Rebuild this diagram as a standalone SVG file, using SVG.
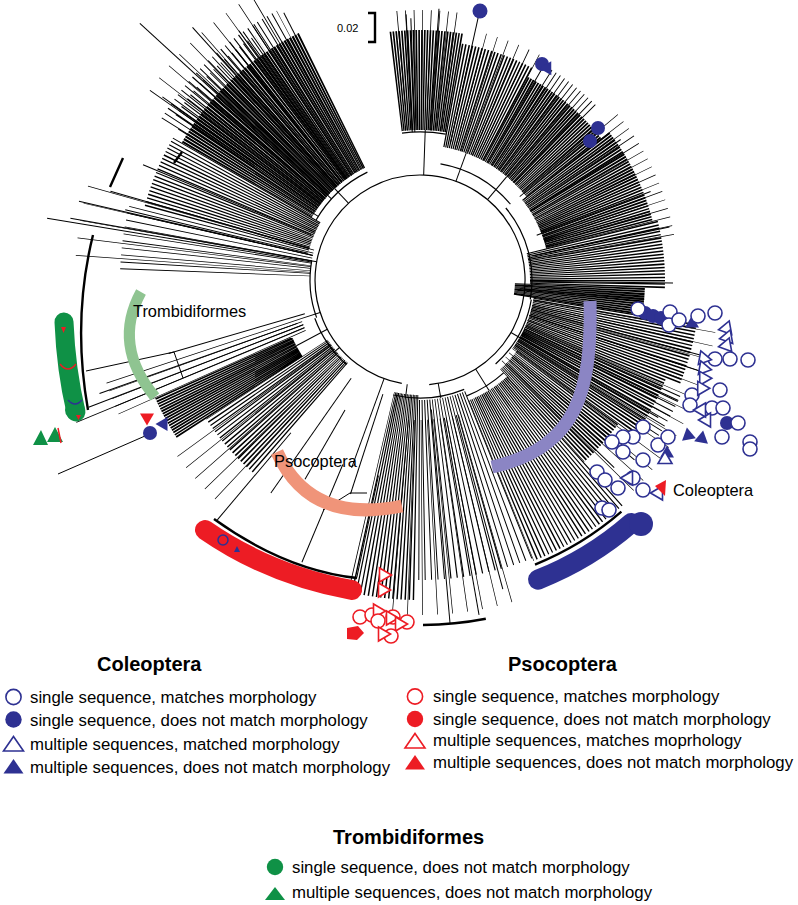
<svg xmlns="http://www.w3.org/2000/svg" width="798" height="905" viewBox="0 0 798 905">
<defs>
<style>
.f{fill:none;stroke:#000}
.l{fill:none;stroke:#000;stroke-width:1}
.a{fill:none;stroke:#000;stroke-width:1.2}
.k{fill:none;stroke:#000;stroke-width:2.4}
.bo{fill:#fff;stroke:#2e3192;stroke-width:1.6}
.bf{fill:#2e3192}
.ro{fill:#fff;stroke:#ed1c24;stroke-width:1.6}
.rf{fill:#ed1c24}
.gf{fill:#0f9146}
.t{font-family:"Liberation Sans",Arial,Helvetica,sans-serif;fill:#000}
.lg{font-size:16.8px}
.h{font-size:20px;font-weight:bold}
.tl{font-size:16.4px}
</style>
<polygon id="tri" points="0,-6.5 7,5.5 -7,5.5"/>
<polygon id="ltri" points="0,-7.5 10,7 -10,7"/>
</defs>
<rect width="798" height="905" fill="#fff"/>

<g id="tree" transform="translate(420 280)">
<g id="fans" class="f">
<path d="M-204.9 -7.2A205 205 0 0 1 -198 -53.1" stroke-width="190" stroke-dasharray="0.8 4"/>
<path d="M-227 -15.9A227.5 227.5 0 0 1 -217.6 -66.5" stroke-width="235" stroke-dasharray="0.6 11"/>
<path d="M-193.2 -51.8A200 200 0 0 1 -173.2 -100" stroke-width="170" stroke-dasharray="1.2 1.5"/>
<path d="M-173.2 -100A200 200 0 0 1 -87.7 -179.8" stroke-width="150" stroke-dasharray="1.6 0.6"/>
<path d="M-174.1 -117.4A210 210 0 0 1 -117.4 -174.1" stroke-width="170" stroke-dasharray="1 2.5"/>
<path d="M-182.3 -113.9A215 215 0 0 1 -100.9 -189.8" stroke-width="180" stroke-dasharray="1 3"/>
<path d="M-186.4 -130.5A227.5 227.5 0 0 1 -113.75 -197" stroke-width="205" stroke-dasharray="0.7 10"/>
<path d="M-24.4 -198.5A200 200 0 0 1 34.7 -197" stroke-width="100" stroke-dasharray="1.5 0.8"/>
<path d="M-18.3 -209.2A210 210 0 0 1 29.2 -208" stroke-width="120" stroke-dasharray="0.7 6"/>
<path d="M32.6 -184.7A187.5 187.5 0 0 1 88 -165.5" stroke-width="105" stroke-dasharray="1.4 1.2"/>
<path d="M50.5 -188.4A195 195 0 0 1 97.5 -168.9" stroke-width="120" stroke-dasharray="0.7 8"/>
<path d="M85.7 -161.1A182.5 182.5 0 0 1 143.8 -112.4" stroke-width="95" stroke-dasharray="1.5 0.7"/>
<path d="M101.5 -162.4A191.5 191.5 0 0 1 137.7 -133" stroke-width="113" stroke-dasharray="0.9 3"/>
<path d="M145.8 -113.9A185 185 0 0 1 179.5 -44.8" stroke-width="110" stroke-dasharray="1.5 0.7"/>
<path d="M148.6 -124.7A194 194 0 0 1 191.05 -33.7" stroke-width="128" stroke-dasharray="0.7 6"/>
<path d="M172.2 -42.9A177.5 177.5 0 0 1 177.4 6.2" stroke-width="135" stroke-dasharray="1.3 1.1"/>
<path d="M159.9 5.6A160 160 0 0 1 158 25" stroke-width="130" stroke-dasharray="1.5 0.3"/>
<path d="M195.1 30.9A197.5 197.5 0 0 1 183.1 74" stroke-width="165" stroke-dasharray="1.3 1.2"/>
<path d="M176.2 71.2A190 190 0 0 1 153.7 111.7" stroke-width="150" stroke-dasharray="1.4 1"/>
<path d="M182.7 81.3A200 200 0 0 1 165.8 111.8" stroke-width="170" stroke-dasharray="0.9 3"/>
<path d="M147.6 107.3A182.5 182.5 0 0 1 122.1 135.6" stroke-width="125" stroke-dasharray="1.3 1.2"/>
<path d="M204.3 36A207.5 207.5 0 0 1 144.1 149.3" stroke-width="185" stroke-dasharray="0.6 9"/>
<path d="M144.9 160.9A216.5 216.5 0 0 1 81.1 200.7" stroke-width="173" stroke-dasharray="1.2 1.8"/>
<path d="M78.7 194.7A210 210 0 0 1 -3.7 210" stroke-width="180" stroke-dasharray="1 3.5"/>
<path d="M65.5 228.3A237.5 237.5 0 0 1 -20.7 236.6" stroke-width="195" stroke-dasharray="0.7 10"/>
<path d="M-3.8 217.5A217.5 217.5 0 0 1 -48.9 211.9" stroke-width="205" stroke-dasharray="1.2 1.6"/>
<path d="M-119.7 137.7A182.5 182.5 0 0 1 -153.1 99.4" stroke-width="145" stroke-dasharray="1.2 1.6"/>
<path d="M-139.8 149.9A205 205 0 0 1 -169.9 114.6" stroke-width="190" stroke-dasharray="0.7 9"/>
<path d="M-180.3 117.1A215 215 0 0 1 -196.4 87.4" stroke-width="150" stroke-dasharray="1.5 0.5"/>
<path d="M-207.8 92.5A227.5 227.5 0 0 1 -217.6 66.5" stroke-width="205" stroke-dasharray="0.7 5"/>
</g>
<g id="branches" class="l">
<path d="M120 0H380" transform="rotate(-137.5)"/>
<path d="M110 0H378" transform="rotate(-170.6)"/>
<path d="M110 0H355" transform="rotate(-170)"/>
<path d="M110 0H350" transform="rotate(-167)"/>
<path d="M115 0H303" transform="rotate(-166.6)"/>
<path d="M115 0H322" transform="rotate(-164)"/>
<path d="M118 0H300" transform="rotate(-157.4)"/>
<path d="M120 0H285" transform="rotate(-148)"/>
<path d="M125 0H316" transform="rotate(-144.6)"/>
<path d="M125 0H340" transform="rotate(-132)"/>
<path d="M125 0H308" transform="rotate(-126)"/>
<path d="M125 0H305" transform="rotate(-123)"/>
<path d="M125 0H300" transform="rotate(-117)"/>
<path d="M148 0H266" transform="rotate(-93)"/>
<path d="M148 0H262" transform="rotate(-92)"/>
<path d="M150 0H272" transform="rotate(-86)"/>
<path d="M140 0H270" transform="rotate(-77.5)"/>
<path d="M135 0H248" transform="rotate(-60)"/>
<path d="M135 0H232" transform="rotate(-40.8)"/>
<path d="M130 0H245" transform="rotate(-35)"/>
<path d="M130 0H240" transform="rotate(-32)"/>
<path d="M125 0H247" transform="rotate(-21)"/>
<path d="M115 0H255" transform="rotate(-12)"/>
<path d="M110 0H253" transform="rotate(0.7)"/>
<path d="M100 0H225" transform="rotate(5)"/>
<path d="M115 0H290" transform="rotate(15)"/>
<path d="M115 0H295" transform="rotate(18)"/>
<path d="M115 0H285" transform="rotate(25)"/>
<path d="M115 0H275" transform="rotate(30)"/>
<path d="M120 0H280" transform="rotate(40)"/>
<path d="M120 0H270" transform="rotate(44)"/>
<path d="M125 0H372" transform="rotate(157.5)"/>
<path d="M125 0H355" transform="rotate(159)"/>
<path d="M130 0H340" transform="rotate(160.5)"/>
<path d="M120 0H262" transform="rotate(163.7)"/>
<path d="M200 0H304" transform="rotate(102)"/>
<path d="M200 0H306" transform="rotate(112.7)"/>
<path d="M200 0H314" transform="rotate(130.2)"/>
<path d="M150 0H230" transform="rotate(120)"/>
<path d="M120 0H225" transform="rotate(108)"/>
<path d="M120 0H260" transform="rotate(125)"/>
<path d="M140 0H320" transform="rotate(75)"/>
<path d="M140 0H340" transform="rotate(80)"/>
<path d="M130 0H345" transform="rotate(85)"/>
<path d="M105 0H150" transform="rotate(-88)"/>
<path d="M105 0H135" transform="rotate(-70)"/>
<path d="M105 0H135" transform="rotate(-50)"/>
<path d="M105 0H125" transform="rotate(-133)"/>
<path d="M105 0H115" transform="rotate(5)"/>
<path d="M105 0H118" transform="rotate(30)"/>
<path d="M105 0H130" transform="rotate(58)"/>
<path d="M105 0H120" transform="rotate(80)"/>
<path d="M105 0H118" transform="rotate(97)"/>
<path d="M105 0H200" transform="rotate(110)"/>
<path d="M105 0H115" transform="rotate(140)"/>
<path d="M105 0H140" transform="rotate(152)"/>
<path d="M105 0H125" transform="rotate(162)"/>
<path d="M105 0H112" transform="rotate(-170)"/>
</g>
<g id="nodes" class="a">
<path d="M-18.2 103.4A105 105 0 1 1 9.2 104.6"/>
<path d="M-103.9 -60A120 120 0 0 1 -52.6 -107.9"/>
<path d="M-18 -146.9A148 148 0 0 1 25.7 -145.8"/>
<path d="M20.5 -116.2A118 118 0 0 1 90.4 -75.9"/>
<path d="M85.8 -72A112 112 0 0 1 110.3 19.4"/>
<path d="M111.3 19.6A113 113 0 0 1 75.6 84"/>
<path d="M83.6 92.9A125 125 0 0 1 46.8 115.9"/>
<path d="M44.2 109.4A118 118 0 0 1 -26.6 115"/>
<path d="M-73.5 84.5A112 112 0 0 1 -105.2 38.3"/>
<path d="M-103.4 37.6A110 110 0 0 1 -108.3 -19.1"/>
</g>
</g>

<g id="clade-lines">
<path class="k" d="M621.4 511.7A307 307 0 0 1 535 564.6"/>
<path class="k" d="M485.8 618.7A345 345 0 0 1 423 625"/>
<path class="l" d="M323 510L350 493M350 493H367M86 371L174 352L183 378M58 474L145 436"/>
<path class="k" d="M123 158L110 187M182 152L174 163M368 13H375V42H368" stroke-width="1.6"/>
</g>

<g id="highlight-arcs" fill="none" stroke-linecap="butt">
<path d="M141 292Q112 345 155 397" stroke="#8fc491" stroke-width="11"/>
<path d="M277 452Q310 525 402 506" stroke="#f09479" stroke-width="13"/>
<path d="M590 301C592 390 578 448 492 467" stroke="#8b85c4" stroke-width="13"/>
</g>

<g id="trombidiformes">
<path class="k" d="M93 235Q72 320 88 410" stroke-width="2"/>
<path d="M64 322Q66 370 76 412" stroke="#0f9146" stroke-width="19" stroke-linecap="round" fill="none"/>
<circle class="gf" cx="75" cy="410" r="10"/>
<polygon class="rf" points="61,327 66,327 63.5,333"/>
<path d="M60 364Q68 374 76 364" stroke="#ed1c24" stroke-width="1.5" fill="none"/>
<path d="M68 400Q75 408 82 400" stroke="#2e3192" stroke-width="1.5" fill="none"/>
<polygon class="rf" points="76,415 81,415 78.5,420"/>
<polygon class="gf" points="41,430 48,445 33,445"/>
<polygon class="gf" points="55,427 63,442 47,442"/>
<path d="M58 428L61 443" stroke="#ed1c24" stroke-width="1.5"/>
</g>

<g id="psocoptera">
<path d="M205 530Q270 575 352 590" stroke="#ed1c24" stroke-width="20" stroke-linecap="round" fill="none"/>
<path class="k" d="M214 519Q285 570 357 578"/>
<circle cx="223" cy="540" r="5" fill="none" stroke="#2e3192" stroke-width="1.5"/>
<polygon class="bf" points="237,546 240,552 234,552"/>
<use href="#tri" class="ro" transform="translate(385 575) rotate(90)"/>
<use href="#tri" class="ro" transform="translate(384 590) rotate(90)"/>
<circle class="ro" cx="360" cy="617" r="7"/>
<circle class="ro" cx="372" cy="615" r="7"/>
<use href="#tri" class="ro" transform="translate(379 611) rotate(90)"/>
<circle class="ro" cx="378" cy="621" r="7"/>
<circle class="ro" cx="393" cy="617" r="7"/>
<use href="#tri" class="ro" transform="translate(392 618) rotate(90)"/>
<circle class="ro" cx="407" cy="622" r="7"/>
<use href="#tri" class="ro" transform="translate(401 624) rotate(90)"/>
<polygon class="rf" points="347,628 358,626 364,633 357,640 347,639"/>
<circle class="ro" cx="391" cy="636" r="7"/>
<use href="#tri" class="ro" transform="translate(384 634) rotate(90)"/>
</g>

<g id="coleoptera">
<path d="M631.3 523A322 322 0 0 1 538 579.6" stroke="#2e3192" stroke-width="20" stroke-linecap="round" fill="none"/>
<circle class="bf" cx="641" cy="524" r="12"/>
<circle class="bf" cx="480" cy="11" r="7.5"/>
<circle class="bf" cx="542" cy="64" r="7"/>
<use href="#tri" class="bf" transform="translate(548 67) rotate(30)"/>
<circle class="bf" cx="598" cy="128" r="7"/>
<circle class="bf" cx="590" cy="141" r="7"/>
<circle class="bf" cx="645" cy="313" r="7"/>
<circle class="bf" cx="653" cy="316" r="7"/>
<circle class="bf" cx="661" cy="318" r="7"/>
<use href="#tri" class="bf" transform="translate(692 322)"/>
<circle class="bf" cx="727" cy="423" r="7"/>
<use href="#tri" class="bf" transform="translate(688 434) rotate(-10)"/>
<use href="#tri" class="bf" transform="translate(702 437) rotate(10)"/>
<use href="#tri" class="bf" transform="translate(667 452)"/>
<circle class="bo" cx="638" cy="309" r="7"/>
<circle class="bo" cx="670" cy="312" r="7"/>
<circle class="bo" cx="669" cy="325" r="7"/>
<circle class="bo" cx="679" cy="320" r="7"/>
<circle class="bo" cx="698" cy="316" r="7"/>
<circle class="bo" cx="715" cy="313" r="7"/>
<circle class="bo" cx="715" cy="359" r="7"/>
<circle class="bo" cx="730" cy="359" r="7"/>
<circle class="bo" cx="748" cy="360" r="7"/>
<circle class="bo" cx="720" cy="390" r="7"/>
<circle class="bo" cx="692" cy="395" r="7"/>
<circle class="bo" cx="690" cy="405" r="7"/>
<circle class="bo" cx="712" cy="408" r="7"/>
<circle class="bo" cx="723" cy="408" r="7"/>
<circle class="bo" cx="738" cy="423" r="7"/>
<circle class="bo" cx="722" cy="437" r="7"/>
<circle class="bo" cx="750" cy="442" r="7"/>
<circle class="bo" cx="750" cy="449" r="7"/>
<circle class="bo" cx="643" cy="427" r="7"/>
<circle class="bo" cx="633" cy="437" r="7"/>
<circle class="bo" cx="623" cy="437" r="7"/>
<circle class="bo" cx="612" cy="442" r="7"/>
<circle class="bo" cx="623" cy="452" r="7"/>
<circle class="bo" cx="643" cy="460" r="7"/>
<circle class="bo" cx="658" cy="445" r="7"/>
<circle class="bo" cx="668" cy="437" r="7"/>
<circle class="bo" cx="597" cy="472" r="7"/>
<circle class="bo" cx="605" cy="480" r="7"/>
<circle class="bo" cx="618" cy="488" r="7"/>
<circle class="bo" cx="633" cy="478" r="7"/>
<circle class="bo" cx="643" cy="490" r="7"/>
<circle class="bo" cx="602" cy="508" r="7"/>
<circle class="bo" cx="609" cy="510" r="7"/>
<use href="#tri" class="bo" transform="translate(727 327) rotate(20)"/>
<use href="#tri" class="bo" transform="translate(728 336) rotate(20)"/>
<use href="#tri" class="bo" transform="translate(727 344) rotate(20)"/>
<use href="#tri" class="bo" transform="translate(703 357) rotate(-20)"/>
<use href="#tri" class="bo" transform="translate(703 367) rotate(-20)"/>
<use href="#tri" class="bo" transform="translate(703 377) rotate(-30)"/>
<use href="#tri" class="bo" transform="translate(701 387) rotate(-30)"/>
<use href="#tri" class="bo" transform="translate(705 420) rotate(-90)"/>
<use href="#tri" class="bo" transform="translate(700 410) rotate(-90)"/>
<use href="#tri" class="bo" transform="translate(665 458)"/>
<use href="#tri" class="bo" transform="translate(627 478) rotate(-90)"/>
<use href="#tri" class="bo" transform="translate(657 493) rotate(-90)"/>
<polygon class="rf" points="655,486 666,480 665,496"/>
<use href="#tri" class="rf" transform="translate(147 419) rotate(180)"/>
<circle class="bf" cx="150" cy="433" r="7"/>
<use href="#tri" class="bf" transform="translate(162 424) rotate(-90)"/>
</g>

<g id="labels" class="t">
<text x="337" y="32" font-size="11">0.02</text>
<text class="tl" x="133" y="317">Trombidiformes</text>
<text class="tl" x="274" y="467">Psocoptera</text>
<text class="tl" x="673" y="496">Coleoptera</text>
</g>

<g id="legend-coleoptera">
<text class="t h" x="97" y="671">Coleoptera</text>
<circle class="bo" cx="13.5" cy="697" r="7.6" stroke-width="1.8"/>
<circle class="bf" cx="13.5" cy="719.5" r="8.2"/>
<use href="#ltri" class="bo" transform="translate(13.5 744)" stroke-width="1.8"/>
<use href="#ltri" class="bf" transform="translate(13.5 766.5)"/>
<text class="t lg" x="30" y="702.5">single sequence, matches morphology</text>
<text class="t lg" x="30" y="725.5">single sequence, does not match morphology</text>
<text class="t lg" x="30" y="749.5">multiple sequences, matched morphology</text>
<text class="t lg" x="30" y="772.5">multiple sequences, does not match morphology</text>
</g>

<g id="legend-psocoptera">
<text class="t h" x="508" y="671">Psocoptera</text>
<circle class="ro" cx="415" cy="696.5" r="7.6" stroke-width="1.8"/>
<circle class="rf" cx="415" cy="719" r="8.2"/>
<use href="#ltri" class="ro" transform="translate(415 741)" stroke-width="1.8"/>
<use href="#ltri" class="rf" transform="translate(415 762.5)"/>
<text class="t lg" x="433" y="702">single sequence, matches morphology</text>
<text class="t lg" x="433" y="724.5">single sequence, does not match morphology</text>
<text class="t lg" x="433" y="746">multiple sequences, matches moprhology</text>
<text class="t lg" x="433" y="767.5">multiple sequences, does not match morphology</text>
</g>

<g id="legend-trombidiformes">
<text class="t h" x="333" y="844">Trombidiformes</text>
<circle class="gf" cx="275" cy="867" r="8.2"/>
<polygon class="gf" points="275,887 285,900 265,900"/>
<text class="t lg" x="292" y="872.5">single sequence, does not match morphology</text>
<text class="t lg" x="292" y="898">multiple sequences, does not match morphology</text>
</g>
</svg>
